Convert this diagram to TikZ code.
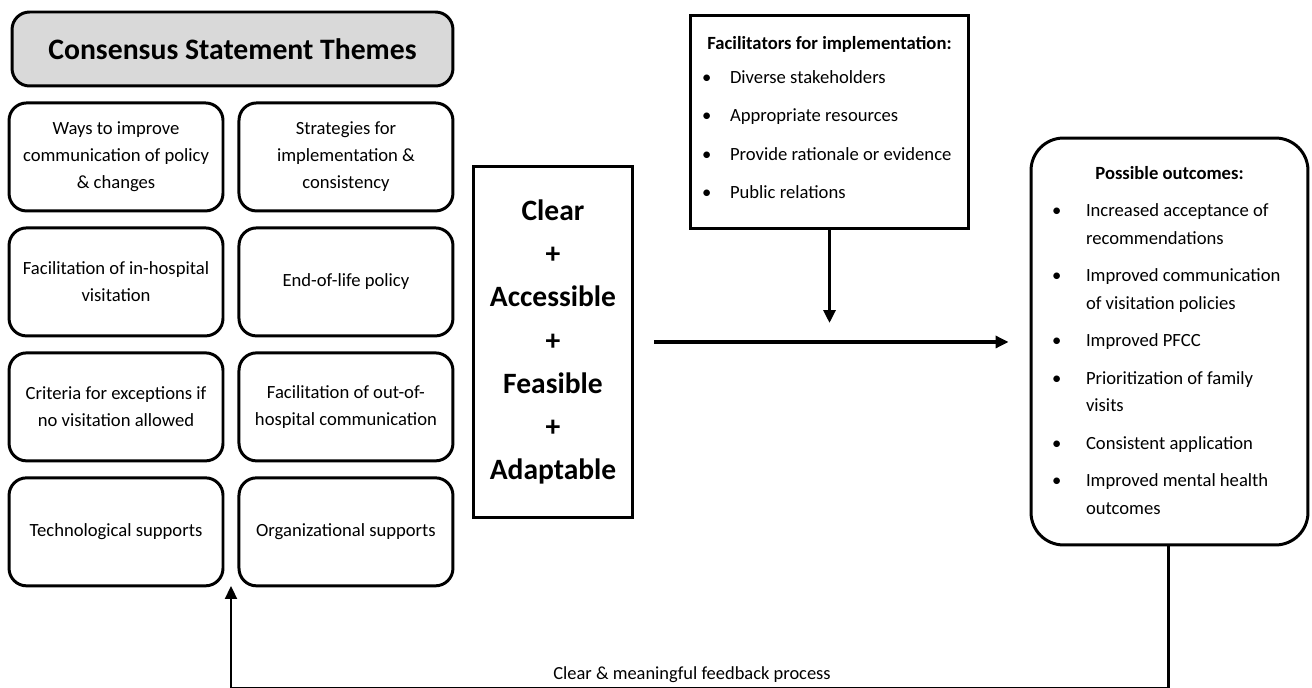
\documentclass[tikz,border=0pt]{standalone}
\usepackage{fontspec}
\setmainfont{Carlito}
\usepackage{array}
\usetikzlibrary{arrows.meta, positioning}

\newcommand{\bul}{\textbullet}

\begin{document}
\begin{tikzpicture}[
    x=0.02cm, y=-0.02cm,
    node distance=0.28cm and 0.26cm,
    theme/.style={rectangle, draw, line width=1.7pt, rounded corners=0.35cm, minimum width=4.28cm, minimum height=2.16cm, align=center, font=\fontsize{10.6}{15.4}\selectfont},
    head/.style={theme, fill=black!15, minimum width=8.82cm, minimum height=1.48cm, font=\fontsize{16.9}{20}\selectfont\bfseries},
    listbox/.style={rectangle, draw, line width=1.7pt, inner sep=0pt, font=\fontsize{10.6}{15.8}\selectfont},
    arrow/.style={-{Triangle[length=0.26cm, width=0.24cm]}, line width=1.8pt}
]
\useasboundingbox (0,0) rectangle (1312,688);

% Themes
\node[head] (themes) at (232.5,49) {Consensus Statement Themes};
\node[theme, below=0.28cm of themes.south west, anchor=north west, xshift=-0.06cm] (ways) {Ways to improve\\communication of policy\\\& changes};
\node[theme, right=of ways] (strat) {Strategies for\\implementation \&\\consistency};
\node[theme, below=of ways] (inhosp) {Facilitation of in-hospital\\visitation};
\node[theme, right=of inhosp] (eol) {End-of-life policy};
\node[theme, below=of inhosp] (crit) {Criteria for exceptions if\\no visitation allowed};
\node[theme, right=of crit] (outhosp) {Facilitation of out-of-\\hospital communication};
\node[theme, below=of crit] (tech) {Technological supports};
\node[theme, right=of tech] (org) {Organizational supports};

% Principles
\node[rectangle, draw, line width=1.7pt, minimum width=3.2cm, minimum height=7.04cm, align=center,
      font=\fontsize{16.8}{24.5}\selectfont\bfseries] (clear) at (553,342)
      {Clear\\+\\Accessible\\+\\Feasible\\+\\Adaptable};

% Facilitators
\node[listbox, minimum width=5.58cm, minimum height=4.28cm] (facil) at (829.5,122) {%
  \begin{tabular}{@{}p{0.56cm}@{}p{4.54cm}@{}}
  \multicolumn{2}{@{}c@{}}{\textbf{Facilitators for implementation:}}\\[3.5pt]
  \bul & Diverse stakeholders\\[6pt]
  \bul & Appropriate resources\\[6pt]
  \bul & Provide rationale or evidence\\[6pt]
  \bul & Public relations\\[4pt]
  \end{tabular}};

% Outcomes
\node[listbox, rounded corners=0.65cm, minimum width=5.54cm, minimum height=8.14cm] (outc) at (1169.5,341.5) {%
  \begin{tabular}{@{}p{0.68cm}@{}p{4.02cm}@{}}
  \multicolumn{2}{@{}c@{}}{\textbf{Possible outcomes:}}\\[5pt]
  \bul & Increased acceptance of\\
       & recommendations\\[5.5pt]
  \bul & Improved communication\\
       & of visitation policies\\[5.5pt]
  \bul & Improved PFCC\\[5.5pt]
  \bul & Prioritization of family\\
       & visits\\[5.5pt]
  \bul & Consistent application\\[5.5pt]
  \bul & Improved mental health\\
       & outcomes
  \end{tabular}};

% Arrows
\draw[arrow, shorten <=0.4cm, shorten >=0.42cm] (clear.east) -- (outc.west |- clear.east);
\draw[arrow, shorten >=0.38cm] (facil.south) -- (facil.south |- clear.east);

% Feedback loop
\coordinate (fbr) at (1168,688);
\coordinate (fbl) at (231,688);
\coordinate (fbtip) at (231,586);
\draw[line width=1.7pt] (outc.south -| fbr) -- (fbr);
\draw[arrow, line width=1.3pt] (fbr) -- (fbl) -- (fbtip);
\node[font=\fontsize{10.5}{12}\selectfont, anchor=base] (fbtext) at (692,680) {Clear \& meaningful feedback process};

\end{tikzpicture}
\end{document}
